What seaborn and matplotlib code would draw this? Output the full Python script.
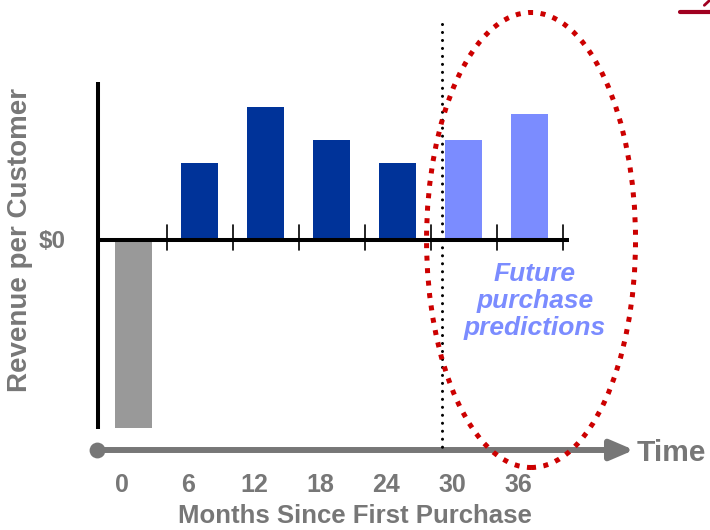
import matplotlib
matplotlib.use("Agg")
import matplotlib.pyplot as plt
import seaborn as sns
import pandas as pd
from matplotlib.patches import Ellipse
from matplotlib.lines import Line2D

# chart data
months = [0, 6, 12, 18, 24, 30, 36]
revenue = [-18.8, 7.7, 13.3, 10.0, 7.7, 10.0, 12.6]
kind = ["cost", "actual", "actual", "actual", "actual", "predicted", "predicted"]
tick_labels = ["0", "6", "12", "18", "24", "30", "36"]

colors = {"cost": "#999999", "actual": "#003399", "predicted": "#7b8cff"}
grey_txt = "#777777"

df = pd.DataFrame({"month": months, "revenue": revenue, "kind": kind})

sns.set_style("white")
plt.rcParams["font.family"] = ["Liberation Sans", "DejaVu Sans"]

fig = plt.figure(figsize=(7.1, 5.3), dpi=100)
ax = fig.add_axes([0, 0, 1, 1])

sns.barplot(data=df, x="month", y="revenue", hue="kind", palette=colors,
            native_scale=True, width=0.55, dodge=False, errorbar=None,
            saturation=1, legend=False, linewidth=0, orient="x", ax=ax, zorder=2)

# pixel-like frame: 11 px per month, 10 px per revenue unit
ax.set_xlim(-12.14, 52.41)
ax.set_ylim(-29, 24)
ax.axis("off")

# y axis and zero line with ticks between bars
ax.plot([-3.23, -3.23], [15.8, -18.9], color="black", lw=2.9, solid_capstyle="butt", zorder=3)
ax.plot([-3.23, 39.6], [0, 0], color="black", lw=2.9, solid_capstyle="butt", zorder=3)
for m in months:
    ax.plot([m + 3, m + 3], [1.5, -1.0], color="black", lw=1.2, zorder=3)

# divider between history and prediction
ax.plot([28.05, 28.05], [21.6, -21], color="black", lw=2.2,
        linestyle=(0, (0.01, 2.6)), dash_capstyle="round", zorder=4)

# time arrow
ax.annotate("", xy=(45.5, -21), xytext=(-3.32, -21),
            arrowprops=dict(arrowstyle="-|>,head_length=0.7,head_width=0.3",
                            color=grey_txt, lw=4.3, mutation_scale=20,
                            shrinkA=0, shrinkB=0), zorder=3)
ax.scatter([-3.32], [-21], s=130, color=grey_txt, zorder=4, linewidth=0)
ax.text(45.7, -21.3, "Time", fontsize=21.5, fontweight="bold", color=grey_txt,
        ha="left", va="center")

# month labels
for m, lab in zip(months, tick_labels):
    ax.text(m - 1.05, -24.45, lab, fontsize=18, fontweight="bold", color=grey_txt,
            ha="center", va="center")
ax.text(20.1, -27.6, "Months Since First Purchase", fontsize=18.5, fontweight="bold",
        color=grey_txt, ha="center", va="center")

ax.text(-10.3, 0, "Revenue per Customer", fontsize=20, fontweight="bold",
        color=grey_txt, rotation=90, ha="center", va="center")
ax.text(-7.41, -0.1, "$0", fontsize=17.5, fontweight="bold", color=grey_txt,
        ha="center", va="center")

# prediction highlight
ax.add_patch(Ellipse((36.14, 0), 19.0, 45.5, fill=False, edgecolor="#cc0000",
                     lw=3.6, linestyle=(0, (1, 1.5)), zorder=5))
ax.text(36.5, -6.1, "Future\npurchase\npredictions", fontsize=19, fontweight="bold",
        fontstyle="italic", color="#7b8cff", ha="center", va="center", linespacing=1.17)

# slide logo fragment in corner
fig.add_artist(Line2D([0.958, 1.0], [0.977, 0.977], color="#a00020", lw=3))
fig.add_artist(Line2D([0.992, 1.0], [0.99, 1.0], color="#a00020", lw=2))

fig.savefig("out.png", dpi=100)
